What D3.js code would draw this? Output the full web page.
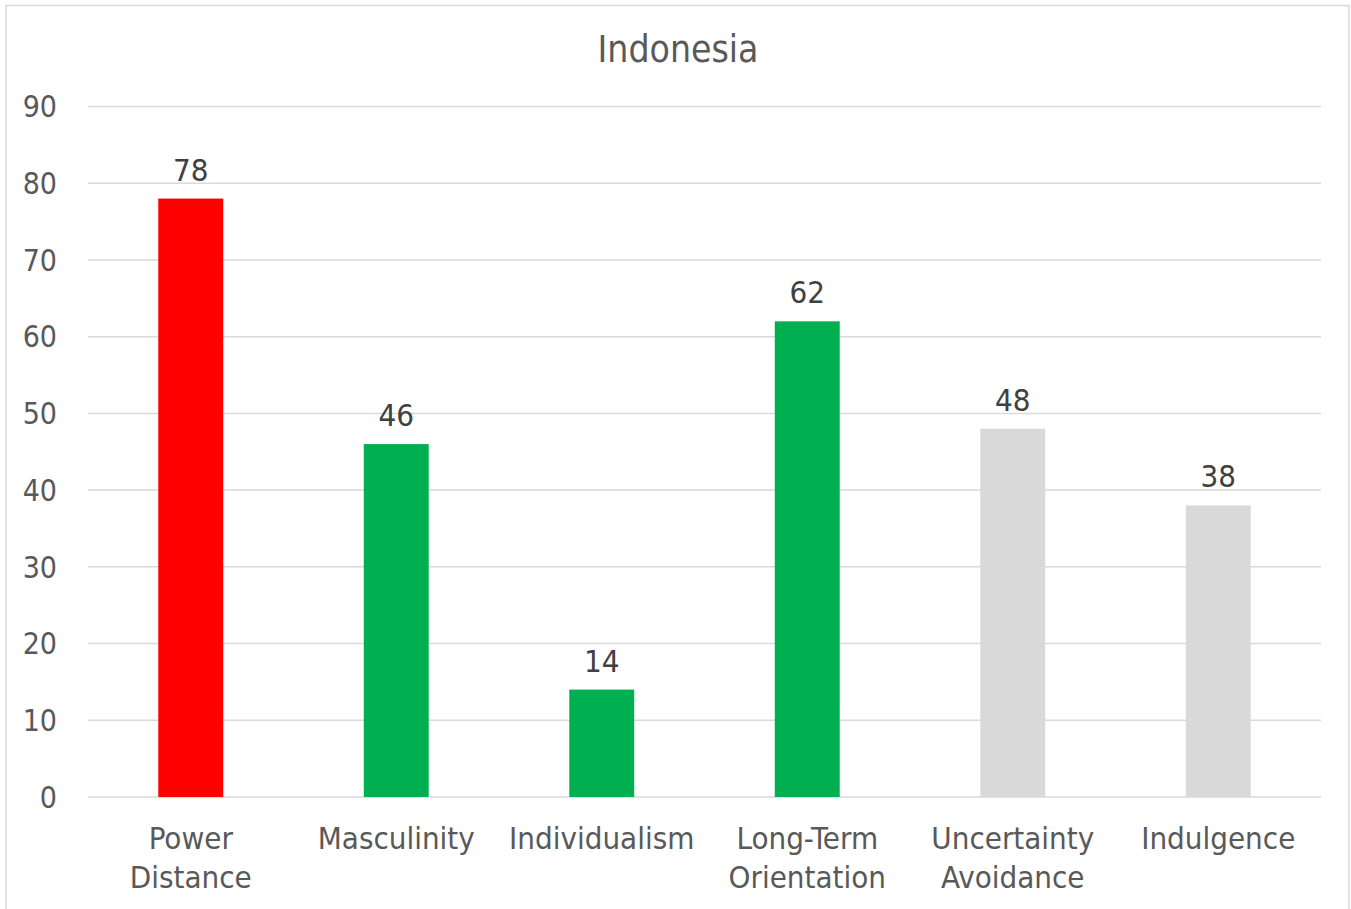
<!DOCTYPE html>
<html lang="en">
<head>
    <meta charset="UTF-8">
    <title>Indonesia</title>
    <script src="https://cdn.jsdelivr.net/npm/d3@7/dist/d3.min.js"></script>
    <style>
        body { margin: 0; background: #fff; }
        text { font-family: "DejaVu Sans Condensed", "DejaVu Sans", sans-serif; }
    </style>
</head>
<body>
<script>
    // data
    var categories = [["Power", "Distance"], ["Masculinity"], ["Individualism"], ["Long-Term", "Orientation"], ["Uncertainty", "Avoidance"], ["Indulgence"]];
    var values = [78, 46, 14, 62, 48, 38];
    var barColors = ["#ff0000", "#00b050", "#00b050", "#00b050", "#d9d9d9", "#d9d9d9"];
    var yTicks = [0, 10, 20, 30, 40, 50, 60, 70, 80, 90];
    var title = "Indonesia";

    var W = 1351, H = 909;
    var svg = d3.select("body").append("svg")
        .attr("width", W).attr("height", H);

    // outer chart border (bottom edge falls outside the picture)
    svg.append("rect")
        .attr("x", 6).attr("y", 5.5)
        .attr("width", 1343).attr("height", 920)
        .attr("fill", "#fff")
        .attr("stroke", "#d9d9d9")
        .attr("stroke-width", 1.5);

    var plotL = 88, plotR = 1321, plotT = 106.5, plotB = 797;

    var x = d3.scaleBand().domain(d3.range(values.length)).range([plotL, plotR]);
    var y = d3.scaleLinear().domain([0, 90]).range([plotB, plotT]);
    var barW = x.bandwidth() * 0.316;

    // gridlines
    svg.append("g").selectAll("line")
        .data(yTicks).enter().append("line")
        .attr("x1", plotL).attr("x2", plotR)
        .attr("y1", function (d) { return y(d); })
        .attr("y2", function (d) { return y(d); })
        .attr("stroke", "#d9d9d9")
        .attr("stroke-width", 1.5);

    // y tick labels
    svg.append("g").selectAll("text")
        .data(yTicks).enter().append("text")
        .attr("x", 57)
        .attr("y", function (d) { return y(d); })
        .attr("dy", "0.36em")
        .attr("text-anchor", "end")
        .attr("fill", "#595959")
        .style("font-size", "30px")
        .text(function (d) { return d; });

    // bars
    svg.append("g").selectAll("rect")
        .data(values).enter().append("rect")
        .attr("x", function (d, i) { return x(i) + x.bandwidth() / 2 - barW / 2; })
        .attr("y", function (d) { return y(d); })
        .attr("width", barW)
        .attr("height", function (d) { return y(0) - y(d); })
        .attr("fill", function (d, i) { return barColors[i]; });

    // value labels
    svg.append("g").selectAll("text")
        .data(values).enter().append("text")
        .attr("x", function (d, i) { return x(i) + x.bandwidth() / 2; })
        .attr("y", function (d) { return y(d) - 18; })
        .attr("text-anchor", "middle")
        .attr("fill", "#404040")
        .style("font-size", "31px")
        .text(function (d) { return d; });

    // category labels
    var cat = svg.append("g").selectAll("text")
        .data(categories).enter().append("text")
        .attr("x", function (d, i) { return x(i) + x.bandwidth() / 2; })
        .attr("y", 849)
        .attr("text-anchor", "middle")
        .attr("fill", "#595959")
        .style("font-size", "31px");
    cat.selectAll("tspan")
        .data(function (d) { return d; }).enter().append("tspan")
        .attr("x", function () { return d3.select(this.parentNode).attr("x"); })
        .attr("dy", function (d, i) { return i === 0 ? 0 : 39; })
        .text(function (d) { return d; });

    // title
    svg.append("text")
        .attr("x", 678)
        .attr("y", 62)
        .attr("text-anchor", "middle")
        .attr("fill", "#595959")
        .style("font-size", "37px")
        .text(title);
</script>
</body>
</html>
